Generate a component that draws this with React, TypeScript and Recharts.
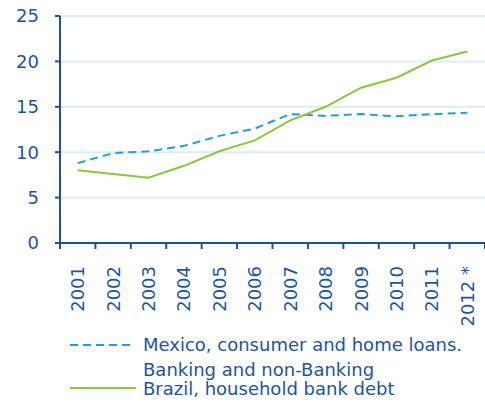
import React from "react";
import { LineChart, Line, XAxis, YAxis, CartesianGrid, Legend } from "recharts";

const years = ["2001", "2002", "2003", "2004", "2005", "2006", "2007", "2008", "2009", "2010", "2011", "2012 *"];
const mexico = [8.8, 9.9, 10.1, 10.7, 11.8, 12.6, 14.2, 14.0, 14.2, 13.95, 14.2, 14.35];
const brazil = [8.0, 7.6, 7.2, 8.5, 10.1, 11.3, 13.5, 15.0, 17.1, 18.2, 20.1, 21.1];
const yTicks = [0, 5, 10, 15, 20, 25];
const boundaryTicks = years.map((_, i) => i).concat([years.length]);
const centerTicks = years.map((_, i) => i + 0.5);
const legendMexico = ["Mexico, consumer and home loans.", "Banking and non-Banking"];
const legendBrazil = "Brazil, household bank debt";

const data = years.map((y, i) => ({ pos: i + 0.5, year: y, mx: mexico[i], br: brazil[i] }));

const AXIS = "#1f4f9e";
const TEXT = "#1b55a6";
const GRID = "#dcEEFA";
const BLUE = "#1e9fe3";
const GREEN = "#8cc63e";
const FONT = "DejaVu Sans";

const EmptyTick = () => <g />;

const YearTick = (props: any) => {
  const { x, y, payload } = props;
  const idx = Math.round(payload.value - 0.5);
  return (
    <text
      transform={`translate(${x},${y + 14}) rotate(-90)`}
      textAnchor="end"
      dominantBaseline="central"
      fill={TEXT}
      fontSize={18}
      fontFamily={FONT}
    >
      {years[idx]}
    </text>
  );
};

const LegendContent = () => (
  <svg width={485} height={75} style={{ display: "block" }}>
    <line x1={70} x2={130} y1={15} y2={15} stroke={BLUE} strokeWidth={2} strokeDasharray="8 5" />
    <text x={143} y={21} fill={TEXT} fontSize={18} fontFamily={FONT}>{legendMexico[0]}</text>
    <text x={143} y={45.5} fill={TEXT} fontSize={18} fontFamily={FONT}>{legendMexico[1]}</text>
    <line x1={70} x2={136} y1={58} y2={58} stroke={GREEN} strokeWidth={2} />
    <text x={143} y={65} fill={TEXT} fontSize={18} fontFamily={FONT}>{legendBrazil}</text>
  </svg>
);

export default function App() {
  return (
    <div style={{ position: "absolute", left: 0, top: 0, width: 485, height: 405 }}>
      <LineChart width={485} height={405} data={data} margin={{ top: 16, right: 0, left: 0, bottom: 82 }}>
        <CartesianGrid xAxisId="a" vertical={false} stroke={GRID} strokeWidth={2} />
        <XAxis
          xAxisId="a"
          dataKey="pos"
          type="number"
          domain={[0, 12]}
          ticks={boundaryTicks}
          tick={EmptyTick}
          tickSize={6}
          height={1}
          axisLine={{ stroke: AXIS, strokeWidth: 2 }}
          tickLine={{ stroke: AXIS, strokeWidth: 2 }}
          interval={0}
        />
        <XAxis
          xAxisId="b"
          dataKey="pos"
          type="number"
          domain={[0, 12]}
          ticks={centerTicks}
          tick={YearTick}
          axisLine={false}
          tickLine={false}
          height={79}
          interval={0}
        />
        <YAxis
          width={60}
          domain={[0, 25]}
          ticks={yTicks}
          tickSize={5}
          tickMargin={16}
          interval={0}
          axisLine={{ stroke: AXIS, strokeWidth: 2 }}
          tickLine={{ stroke: AXIS, strokeWidth: 2 }}
          tick={{ fill: TEXT, fontSize: 18, fontFamily: FONT }}
        />
        <Legend
          layout="vertical"
          align="center"
          verticalAlign="middle"
          content={LegendContent}
          wrapperStyle={{ position: "absolute", left: 0, top: 330, width: 485 }}
        />
        <Line xAxisId="a" dataKey="mx" stroke={BLUE} strokeWidth={2} strokeDasharray="8 5" dot={false} isAnimationActive={false} />
        <Line xAxisId="a" dataKey="br" stroke={GREEN} strokeWidth={2} dot={false} isAnimationActive={false} />
      </LineChart>
    </div>
  );
}
